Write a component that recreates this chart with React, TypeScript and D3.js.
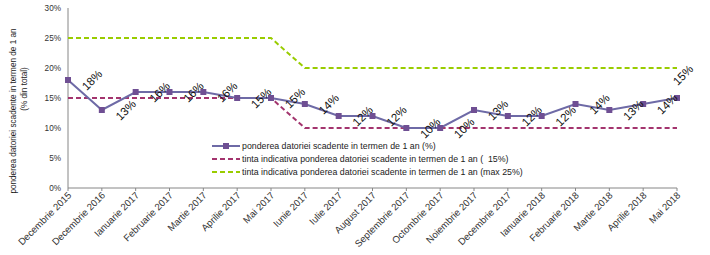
import React from 'react';
import * as d3 from 'd3';

// categories (luni)
const categories = [
  'Decembrie 2015', 'Decembrie 2016', 'Ianuarie 2017', 'Februarie 2017', 'Martie 2017',
  'Aprilie 2017', 'Mai 2017', 'Iunie 2017', 'Iulie 2017', 'August 2017', 'Septembrie 2017',
  'Octombrie 2017', 'Noiembrie 2017', 'Decembrie 2017', 'Ianuarie 2018', 'Februarie 2018',
  'Martie 2018', 'Aprilie 2018', 'Mai 2018',
];
// ponderea datoriei scadente in termen de 1 an (%)
const pondere = [18, 13, 16, 16, 16, 15, 15, 14, 12, 12, 10, 10, 13, 12, 12, 14, 13, 14, 15];
// tinta indicativa (15%)
const tintaMin = [15, 15, 15, 15, 15, 15, 15, 10, 10, 10, 10, 10, 10, 10, 10, 10, 10, 10, 10];
// tinta indicativa (max 25%)
const tintaMax = [25, 25, 25, 25, 25, 25, 25, 20, 20, 20, 20, 20, 20, 20, 20, 20, 20, 20, 20];
const yTicks = [0, 5, 10, 15, 20, 25, 30];
const legendLabels = [
  'ponderea datoriei scadente in termen de 1 an (%)',
  'tinta indicativa ponderea datoriei scadente in termen de 1 an (  15%)',
  'tinta indicativa ponderea datoriei scadente in termen de 1 an (max 25%)',
];

const W = 710;
const H = 255;
const font = 'Liberation Sans, Arial, sans-serif';
const cMain = '#6E6AA6';
const cMarker = '#6F4F93';
const cMin = '#A3346E';
const cMax = '#99CC00';
const axisColor = '#868686';

export default function App() {
  const x = d3.scalePoint<string>().domain(categories).range([68, 677]);
  const y = d3.scaleLinear().domain([0, 30]).range([188, 8]);

  const line = d3
    .line<number>()
    .x((d, i) => x(categories[i]) as number)
    .y((d) => y(d));

  const legendY = [146, 159, 172];

  return (
    <div style={{ position: 'absolute', left: 0, top: 0 }}>
      <svg width={W} height={H} style={{ display: 'block', fontFamily: font }}>
        <rect width={W} height={H} fill="#fff" />

        {/* y axis title */}
        <text
          transform="translate(16,111) rotate(-90)"
          textAnchor="middle"
          fontSize={8.2}
          fill="#222"
        >
          ponderea datoriei scadente in termen de 1 an
        </text>
        <text
          transform="translate(27,89) rotate(-90)"
          textAnchor="middle"
          fontSize={8.2}
          fill="#222"
        >
          (% din total)
        </text>

        {/* y ticks */}
        {yTicks.map((t) => (
          <text
            key={t}
            x={61}
            y={y(t) + 3}
            textAnchor="end"
            fontSize={8.2}
            fill="#333"
          >
            {t}%
          </text>
        ))}

        {/* axes */}
        <line x1={68} x2={68} y1={y(30)} y2={y(0)} stroke={axisColor} strokeWidth={1} />
        <line x1={68} x2={677} y1={y(0)} y2={y(0)} stroke={axisColor} strokeWidth={1} />
        {categories.map((c) => (
          <line
            key={c}
            x1={x(c)}
            x2={x(c)}
            y1={y(0)}
            y2={y(0) + 3}
            stroke={axisColor}
          />
        ))}

        {/* x labels */}
        {categories.map((c) => (
          <text
            key={c}
            transform={`translate(${(x(c) as number) + 4},${y(0) + 8}) rotate(-45)`}
            textAnchor="end"
            fontSize={9.6}
            fill="#333"
          >
            {c}
          </text>
        ))}

        {/* series */}
        <path d={line(tintaMax) || ''} fill="none" stroke={cMax} strokeWidth={2} strokeDasharray="5,3" />
        <path d={line(tintaMin) || ''} fill="none" stroke={cMin} strokeWidth={2} strokeDasharray="5,3" />
        <path d={line(pondere) || ''} fill="none" stroke={cMain} strokeWidth={2} />
        {pondere.map((v, i) => (
          <rect
            key={i}
            x={(x(categories[i]) as number) - 3}
            y={y(v) - 3}
            width={6}
            height={6}
            fill={cMarker}
          />
        ))}

        {/* data labels */}
        {pondere.map((v, i) => {
          const px = x(categories[i]) as number;
          const py = y(v);
          const last = i === pondere.length - 1;
          const lx = last ? px + 6 : px + 24;
          const ly = last ? py - 23 : py;
          return (
            <text
              key={i}
              transform={`translate(${lx},${ly}) rotate(-45)`}
              textAnchor="middle"
              dy="0.35em"
              fontSize={11.5}
              fill="#111"
            >
              {v}%
            </text>
          );
        })}

        {/* legend */}
        {legendLabels.map((lab, i) => {
          const ly = legendY[i];
          return (
            <g key={i}>
              {i === 0 ? (
                <>
                  <line x1={212} x2={240} y1={ly} y2={ly} stroke={cMain} strokeWidth={2} />
                  <rect x={223} y={ly - 3} width={6} height={6} fill={cMarker} />
                </>
              ) : (
                <line
                  x1={212}
                  x2={240}
                  y1={ly}
                  y2={ly}
                  stroke={i === 1 ? cMin : cMax}
                  strokeWidth={2}
                  strokeDasharray="5,3"
                />
              )}
              <text x={242} y={ly + 3} fontSize={8.8} fill="#222" style={{ whiteSpace: 'pre' }}>
                {lab}
              </text>
            </g>
          );
        })}
      </svg>
    </div>
  );
}
